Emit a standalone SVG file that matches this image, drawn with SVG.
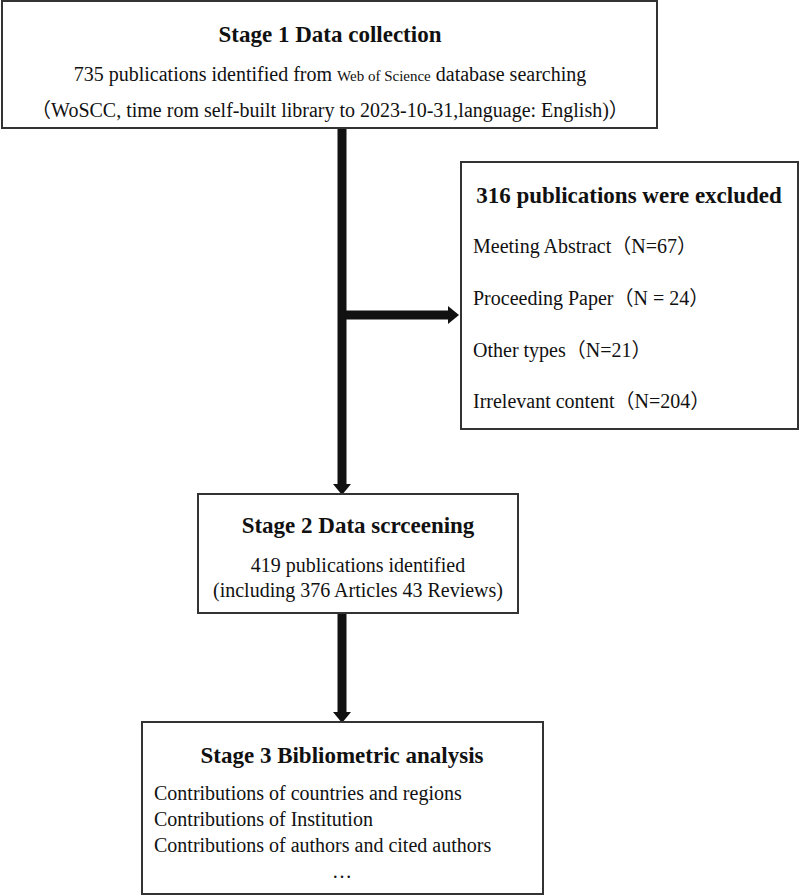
<svg xmlns="http://www.w3.org/2000/svg" width="800" height="896" viewBox="0 0 800 896">
<defs>
<style>
.box{fill:#fff;stroke:#333;stroke-width:2}
.t{font-family:"Liberation Serif","Times New Roman","Noto Sans CJK SC",serif;fill:#111}
.b{font-weight:bold;font-size:23px}
.r{font-size:20px}
.c{stroke:#111;stroke-width:9;fill:none}
</style>
<marker id="ah" markerUnits="userSpaceOnUse" markerWidth="11" markerHeight="18" refX="0" refY="9" orient="auto">
<path d="M0,0 L11,9 L0,18 Z" fill="#111"/>
</marker>
</defs>
<rect width="800" height="896" fill="#fff"/>
<g id="connectors">
<line class="c" x1="342" y1="128" x2="342" y2="484" marker-end="url(#ah)"/>
<line class="c" x1="342" y1="315" x2="448" y2="315" marker-end="url(#ah)"/>
<line class="c" x1="342" y1="613" x2="342" y2="712" marker-end="url(#ah)"/>
</g>
<g id="stage1">
<rect class="box" x="2" y="1" width="655" height="127"/>
<text class="t b" x="330" y="42" text-anchor="middle">Stage 1 Data collection</text>
<text class="t r" x="330" y="81" text-anchor="middle">735 publications identified from <tspan font-size="15">Web of Science</tspan> database searching</text>
<text class="t r" x="330" y="117" text-anchor="middle">（WoSCC, time rom self-built library to 2023-10-31,language: English)）</text>
</g>
<g id="excluded">
<rect class="box" x="461" y="162" width="337" height="267"/>
<text class="t b" x="629" y="203" text-anchor="middle">316 publications were excluded</text>
<text class="t r" x="473" y="253">Meeting Abstract（N=67）</text>
<text class="t r" x="473" y="305">Proceeding Paper（N = 24）</text>
<text class="t r" x="473" y="357">Other types（N=21）</text>
<text class="t r" x="473" y="408">Irrelevant content（N=204）</text>
</g>
<g id="stage2">
<rect class="box" x="198" y="494" width="320" height="119"/>
<text class="t b" x="358" y="533" text-anchor="middle">Stage 2 Data scrceening</text>
<text class="t r" x="358" y="572" text-anchor="middle">419 publications identified</text>
<text class="t r" x="358" y="597" text-anchor="middle">(including 376 Articles 43 Reviews)</text>
</g>
<g id="stage3">
<rect class="box" x="142" y="722" width="401" height="172"/>
<text class="t b" x="342" y="763" text-anchor="middle">Stage 3 Bibliometric analysis</text>
<text class="t r" x="154" y="800">Contributions of countries and regions</text>
<text class="t r" x="154" y="826">Contributions of Institution</text>
<text class="t r" x="154" y="852">Contributions of authors and cited authors</text>
<text class="t r" x="342" y="878" text-anchor="middle">…</text>
</g>
</svg>
